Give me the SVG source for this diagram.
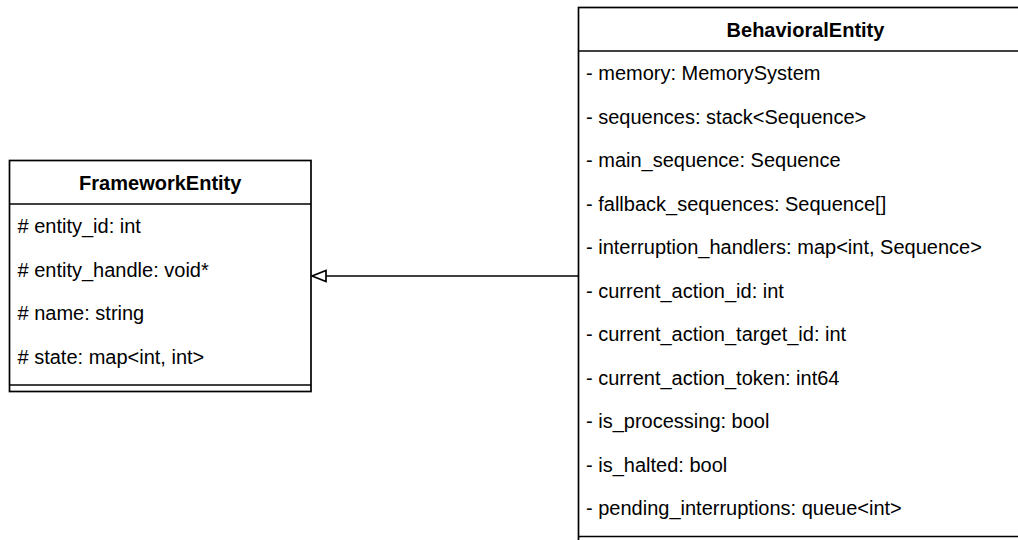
<svg xmlns="http://www.w3.org/2000/svg" width="1018" height="540" viewBox="0 0 1018 540">
<style>
.box{fill:#ffffff;stroke:#000000;stroke-width:1.7}
.ln{stroke:#000000;stroke-width:1.7;fill:none}
.t{font-family:"Liberation Sans",Arial,sans-serif;font-size:20px;fill:#000000}
.h{font-family:"Liberation Sans",Arial,sans-serif;font-size:20px;font-weight:bold;fill:#000000;text-anchor:middle}
</style>
<defs>
<marker id="tri" markerWidth="16" markerHeight="14" refX="15" refY="6.5" orient="auto" markerUnits="userSpaceOnUse">
<path d="M15,6.5 L1,1 L1,12 Z" fill="#ffffff" stroke="#000000" stroke-width="1.7"/>
</marker>
</defs>
<rect width="1018" height="540" fill="#ffffff"/>
<g id="connectors">
<line class="ln" x1="578.5" y1="276" x2="312" y2="276" marker-end="url(#tri)"/>
</g>
<g id="FrameworkEntity">
<rect class="box" x="9.5" y="160.5" width="301.5" height="231"/>
<line class="ln" x1="9.5" y1="204" x2="311" y2="204"/>
<line class="ln" x1="9.5" y1="385" x2="311" y2="385"/>
<text class="h" x="160.25" y="189.5">FrameworkEntity</text>
<text class="t" x="17.5" y="233"># entity_id: int</text>
<text class="t" x="17.5" y="276.5"># entity_handle: void*</text>
<text class="t" x="17.5" y="320"># name: string</text>
<text class="t" x="17.5" y="363.5"># state: map&lt;int, int&gt;</text>
</g>
<g id="BehavioralEntity">
<rect class="box" x="578.5" y="7.5" width="455" height="545"/>
<line class="ln" x1="578.5" y1="51" x2="1033.5" y2="51"/>
<line class="ln" x1="578.5" y1="536.5" x2="1033.5" y2="536.5"/>
<text class="h" x="805.5" y="36.5">BehavioralEntity</text>
<text class="t" x="586" y="80">- memory: MemorySystem</text>
<text class="t" x="586" y="123.5">- sequences: stack&lt;Sequence&gt;</text>
<text class="t" x="586" y="167">- main_sequence: Sequence</text>
<text class="t" x="586" y="210.5">- fallback_sequences: Sequence[]</text>
<text class="t" x="586" y="254">- interruption_handlers: map&lt;int, Sequence&gt;</text>
<text class="t" x="586" y="297.5">- current_action_id: int</text>
<text class="t" x="586" y="341">- current_action_target_id: int</text>
<text class="t" x="586" y="384.5">- current_action_token: int64</text>
<text class="t" x="586" y="428">- is_processing: bool</text>
<text class="t" x="586" y="471.5">- is_halted: bool</text>
<text class="t" x="586" y="515">- pending_interruptions: queue&lt;int&gt;</text>
</g>
</svg>
